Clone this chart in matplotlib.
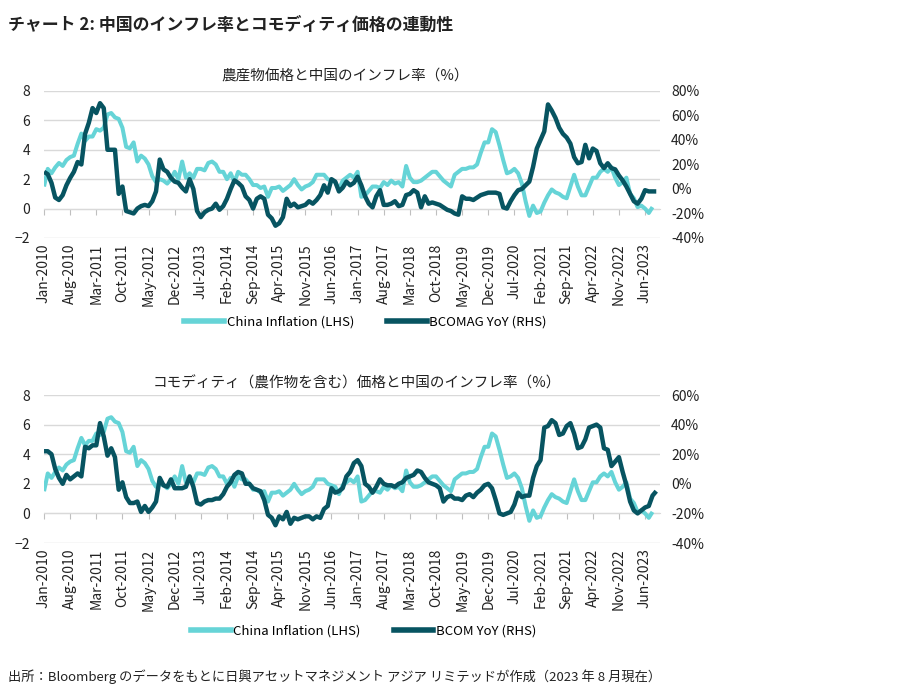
import numpy as np
import pandas as pd
import matplotlib.pyplot as plt

plt.rcParams['font.family'] = ['Noto Sans CJK JP', 'DejaVu Sans']

# China CPI YoY (%), Jan-2010 .. Aug-2023
china_cpi = [
    1.5, 2.7, 2.4, 2.8, 3.1, 2.9, 3.3, 3.5, 3.6, 4.4, 5.1, 4.6,
    4.9, 4.9, 5.4, 5.3, 5.5, 6.4, 6.5, 6.2, 6.1, 5.5, 4.2, 4.1,
    4.5, 3.2, 3.6, 3.4, 3.0, 2.2, 1.8, 2.0, 1.9, 1.7, 2.0, 2.5,
    2.0, 3.2, 2.1, 2.4, 2.1, 2.7, 2.7, 2.6, 3.1, 3.2, 3.0, 2.5,
    2.5, 2.0, 2.4, 1.8, 2.5, 2.3, 2.3, 2.0, 1.6, 1.6, 1.4, 1.5,
    0.8, 1.4, 1.4, 1.5, 1.2, 1.4, 1.6, 2.0, 1.6, 1.3, 1.5, 1.6,
    1.8, 2.3, 2.3, 2.3, 2.0, 1.9, 1.8, 1.3, 1.9, 2.1, 2.3, 2.1,
    2.5, 0.8, 0.9, 1.2, 1.5, 1.5, 1.4, 1.8, 1.6, 1.9, 1.7, 1.8,
    1.5, 2.9, 2.1, 1.8, 1.8, 1.9, 2.1, 2.3, 2.5, 2.5, 2.2, 1.9,
    1.7, 1.5, 2.3, 2.5, 2.7, 2.7, 2.8, 2.8, 3.0, 3.8, 4.5, 4.5,
    5.4, 5.2, 4.3, 3.3, 2.4, 2.5, 2.7, 2.4, 1.7, 0.5, -0.5, 0.2,
    -0.3, -0.2, 0.4, 0.9, 1.3, 1.1, 1.0, 0.8, 0.7, 1.5, 2.3, 1.5,
    0.9, 0.9, 1.5, 2.1, 2.1, 2.5, 2.7, 2.5, 2.8, 2.1, 1.6, 1.8,
    2.1, 1.0, 0.7, 0.1, 0.2, 0.0, -0.3, 0.1,
]

# BCOMAG YoY (%), Jan-2010 .. Sep-2023
bcomag_yoy = [
    14, 12, 5, -7, -9, -5, 3, 9, 14, 22, 20, 45,
    54, 66, 62, 70, 66, 32, 32, 32, -4, 2, -18, -19,
    -20, -16, -14, -13, -14, -10, -2, 24, 16, 14, 9, 6,
    5, 1, -2, 8, 0, -18, -23, -19, -17, -16, -12, -17,
    -14, -8, 0, 7, 5, 2, -6, -9, -16, -8, -6, -8,
    -21, -24, -30, -28, -23, -8, -14, -12, -15, -14, -13, -10,
    -12, -9, -5, 3, -3, 8, 6, -2, 1, 6, 3, 5,
    10, 3, -6, -12, -15, -6, -1, -13, -13, -12, -10, -14,
    -13, -5, -4, -1, -3, -15, -6, -12, -11, -12, -13, -15,
    -17, -18, -20, -21, -6, -8, -8, -9, -7, -5, -4, -3,
    -3, -3, -4, -15, -16, -10, -5, -1, 0, 3, 6, 18,
    33, 40, 47, 69, 64, 58, 50, 45, 42, 37, 26, 21,
    22, 36, 25, 33, 31, 21, 17, 21, 17, 16, 11, 7,
    2, -4, -10, -12, -8, -1, -2, -2, -2,
]

# BCOM YoY (%), Jan-2010 .. Sep-2023
bcom_yoy = [
    22, 22, 20, 10, 4, 0, 6, 3, 5, 7, 5, 25,
    24, 26, 26, 41, 32, 19, 24, 18, -4, 1, -9, -13,
    -13, -12, -19, -15, -19, -16, -12, 4, -1, -2, 3, -3,
    -3, -3, -2, 5, -2, -13, -14, -12, -11, -11, -10, -10,
    -7, -2, 1, 6, 8, 7, 0, 0, -3, -4, -5, -11,
    -21, -23, -28, -22, -24, -19, -27, -23, -24, -23, -22, -22,
    -24, -22, -23, -17, -15, -3, -6, -5, -3, 5, 8, 14,
    16, 12, 0, -2, -6, -2, 3, 0, -1, -1, -2, 0,
    1, 4, 5, 6, 9, 8, 4, 1, 0, -1, -3, -12,
    -9, -8, -10, -10, -11, -8, -7, -9, -6, -4, -1, 0,
    -3, -11, -20, -21, -20, -19, -14, -6, -9, -8, -8, 4,
    12, 16, 38, 39, 43, 41, 33, 34, 39, 41, 34, 24,
    25, 30, 38, 39, 40, 38, 24, 23, 12, 15, 18, 8,
    -1, -12, -18, -20, -18, -16, -15, -8, -5,
]

dates = pd.date_range('2010-01-01', periods=len(bcom_yoy), freq='MS')
tick_idx = list(range(0, 162, 7))
tick_labels = [dates[i].strftime('%b-%Y') for i in tick_idx]

CYAN = '#66d4d7'
DARK = '#075461'
GRID = '#d9d9d9'

fig = plt.figure(figsize=(9.21, 6.89), dpi=100)


def panel(rect, right_series, right_lim, right_ticks, title, title_xy, dark_label, leg_xy):
    ax = fig.add_axes(rect)
    ax.plot(range(len(china_cpi)), china_cpi, color=CYAN, lw=2.9, solid_capstyle='butt')
    ax.set_ylim(-2, 8)
    ax.set_yticks(range(-2, 9, 2))
    ax.set_xlim(0, 165)
    ax.set_xticks(tick_idx)
    ax.set_xticklabels(tick_labels, rotation=90, fontsize=10, color='#222222')
    ax.tick_params(axis='x', length=0, pad=4)
    ax.tick_params(axis='y', length=0, pad=10, labelsize=10, labelcolor='#222222')
    ax.yaxis.grid(True, color=GRID, lw=1)
    ax.set_axisbelow(True)
    for s in ax.spines.values():
        s.set_visible(False)

    # category axis crossing at zero
    sec = ax.secondary_xaxis(0.2)
    sec.set_xticks(tick_idx)
    sec.tick_params(direction='out', length=4, color='#bfbfbf', labelbottom=False)
    sec.spines['bottom'].set_color(GRID)

    ax2 = ax.twinx()
    ax2.plot(range(len(right_series)), right_series, color=DARK, lw=3.2, solid_capstyle='butt')
    ax2.set_ylim(*right_lim)
    ax2.set_yticks(right_ticks)
    ax2.set_yticklabels([f'{t}%' for t in right_ticks])
    ax2.tick_params(axis='y', length=0, pad=8, labelsize=10, labelcolor='#222222')
    for s in ax2.spines.values():
        s.set_visible(False)

    fig.text(title_xy[0], title_xy[1], title, ha='center', va='center', fontsize=10.5, color='#222222')
    h1 = plt.Line2D([], [], color=CYAN, lw=4)
    h2 = plt.Line2D([], [], color=DARK, lw=4)
    fig.legend([h1, h2], ['China Inflation (LHS)', dark_label], loc='center',
               bbox_to_anchor=leg_xy, ncol=2, frameon=False, fontsize=9.5,
               handlelength=3, columnspacing=2.5, handletextpad=0.2)


panel([0.0478, 0.6546, 0.6688, 0.2134], bcomag_yoy, (-40, 80), list(range(-40, 81, 20)),
      '農産物価格と中国のインフレ率（%）', (0.3746, 0.891), 'BCOMAG YoY (RHS)', (0.397, 0.5327))
panel([0.0478, 0.2119, 0.6688, 0.2148], bcom_yoy, (-40, 60), list(range(-40, 61, 20)),
      'コモディティ（農作物を含む）価格と中国のインフレ率（%）', (0.3876, 0.444), 'BCOM YoY (RHS)', (0.395, 0.0842))

fig.text(0.0087, 1 - 25 / 689, 'チャート 2: 中国のインフレ率とコモディティ価格の連動性',
         ha='left', va='center', fontsize=12.2, fontweight='bold', color='#222222')
fig.text(0.0087, 1 - 677 / 689,
         '出所：Bloomberg のデータをもとに日興アセットマネジメント アジア リミテッドが作成（2023 年 8 月現在）',
         ha='left', va='center', fontsize=9.5, color='#222222')

fig.savefig('out.png', dpi=100)
